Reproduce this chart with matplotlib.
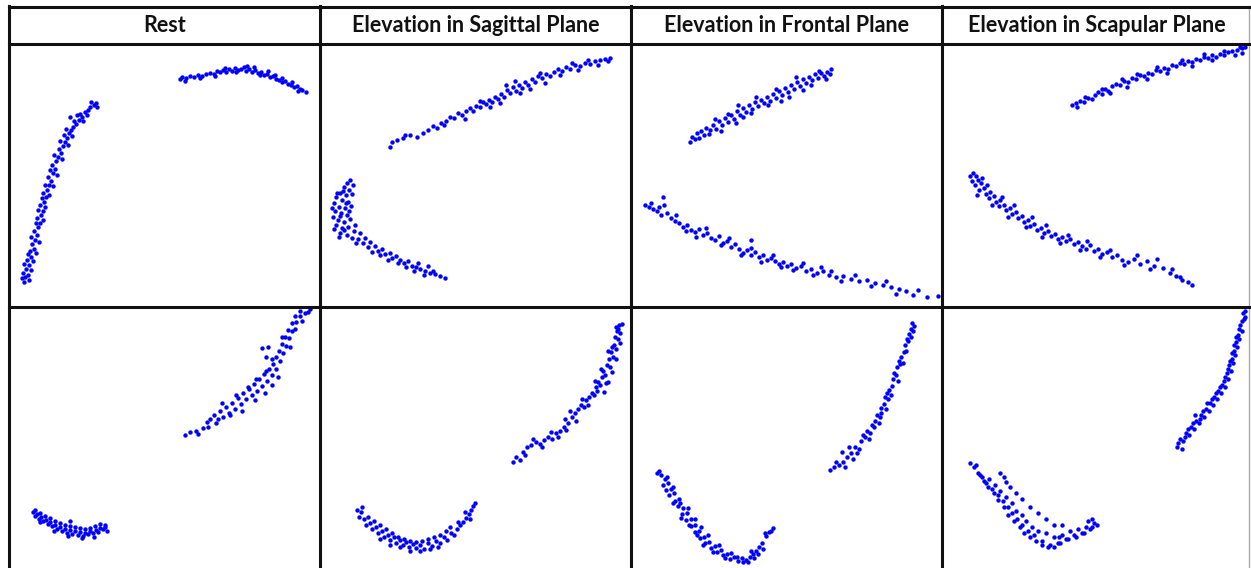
import matplotlib
matplotlib.use("Agg")
from matplotlib import pyplot as plt
from matplotlib.lines import Line2D

W, H = 1251, 568

titles = ["Rest", "Elevation in Sagittal Plane", "Elevation in Frontal Plane", "Elevation in Scapular Plane"]

# point positions inside each panel (x from panel left, y from panel top)
rest_top = [
    (14,237),(15,232),(13,228),(18,230),(16,224),(19,220),(17,215),(21,212),(20,206),(24,204),(22,199),(25,195),
    (27,190),(24,186),(28,182),(30,178),(27,173),(31,170),(33,166),(30,160),(34,157),(36,152),(33,148),(37,145),
    (39,140),(41,136),(38,132),(43,128),(45,124),(42,120),(46,116),(48,112),(51,108),(49,104),(53,101),(55,97),
    (57,93),(54,90),(59,88),(61,85),(63,82),(66,79),(64,76),(69,75),(72,72),(70,69),(75,67),(78,65),(80,62),
    (84,60),(86,58),(87,62),
    (12,233),(19,235),(21,225),(14,219),(23,216),(18,209),(26,208),(21,192),(29,197),(26,178),(33,175),(28,165),
    (35,162),(32,153),(39,150),(35,140),(43,141),(40,125),(47,130),(44,110),(52,114),(50,96),(58,100),(56,84),
    (62,91),(67,70),(73,76),(81,57),(77,70),(60,72),
    (170,34),(172,32),(176,33),(180,31),(184,32),(188,30),(192,31),(196,29),(200,28),(204,29),(207,26),(210,27),
    (213,25),(216,27),(219,24),(222,26),(225,23),(228,25),(231,24),(234,22),(236,26),(239,24),(242,27),(245,25),
    (248,28),(251,27),(254,30),(257,29),(260,32),(263,31),(266,34),(269,35),(272,37),(275,36),(278,39),(281,40),
    (284,42),(287,41),(290,44),(292,45),
    (175,36),(190,33),(205,31),(215,23),(226,27),(237,21),(244,22),(250,30),(258,26),(265,30),(272,33),(282,37),
    (288,46),(296,47),
]
sagittal_top = [
    (70,102),(72,97),(77,95),(83,93),(90,90),(97,92),(103,88),(108,85),(113,81),(117,83),(121,78),(126,76),
    (130,72),(134,73),(138,68),(142,70),(146,66),(150,63),(153,66),(156,61),(160,62),(163,57),(166,59),(169,55),
    (172,57),(175,52),(178,54),(181,49),(184,52),(187,45),(190,48),(193,42),(196,46),(199,40),(202,43),(205,37),
    (208,40),(212,34),(215,37),(218,31),(222,33),(226,29),(230,31),(234,27),(238,24),(242,26),(246,22),(250,24),
    (255,20),(260,21),(265,18),(270,19),(275,16),(280,15),(285,14),(290,13),
    (186,40),(195,36),(200,48),(210,44),(220,28),(225,38),(240,30),(252,18),(258,25),(268,15),(278,20),(288,16),
    (180,58),(170,62),(160,56),(145,74),(124,80),(85,90),
    (30,135),(27,138),(33,140),(24,142),(29,145),(20,148),(26,150),(32,149),(16,152),(22,155),(28,157),(14,158),
    (19,162),(25,163),(31,161),(15,166),(21,168),(27,170),(13,172),(18,175),(24,177),(30,174),(16,180),(22,183),
    (28,182),(35,180),(20,188),(27,190),(34,186),(40,188),(38,194),(45,193),(43,198),(50,197),(48,202),(55,201),
    (58,206),(62,204),(65,209),(70,208),(72,213),(76,211),(80,215),(84,218),(88,216),(92,221),(96,222),(100,224),
    (105,226),(110,228),(115,229),(120,231),(125,233),
    (17,148),(23,146),(26,158),(12,163),(20,171),(29,166),(14,184),(24,185),(32,193),(19,192),(36,198),(52,207),
    (60,210),(68,215),(78,218),(86,222),(94,226),(104,230),(113,226),(108,221),(98,218),
]
frontal_top = [
    (59,97),(61,92),(64,94),(66,88),(70,86),(73,90),(75,83),(79,85),(82,80),(85,84),(88,76),(91,80),(94,73),
    (97,77),(100,70),(103,74),(106,66),(109,70),(112,63),(115,67),(118,60),(121,64),(124,57),(127,61),(130,55),
    (133,58),(136,52),(139,56),(142,49),(145,53),(148,46),(151,50),(154,43),(157,47),(160,40),(163,44),(166,37),
    (169,41),(172,34),(175,38),(178,32),(181,35),(184,29),(187,33),(190,28),(193,31),(196,27),(199,29),
    (68,93),(78,89),(90,86),(97,69),(105,78),(112,72),(120,68),(125,52),(137,60),(145,44),(150,56),(158,52),
    (165,32),(172,45),(180,40),(188,26),(195,34),(200,24),(84,74),(107,60),
    (14,160),(18,162),(22,164),(26,166),(32,152),(33,160),(30,170),(36,168),(40,173),(44,176),(48,178),(52,182),
    (56,180),(60,185),(64,187),(68,184),(72,190),(76,188),(80,193),(84,195),(88,191),(92,198),(96,196),(100,202),
    (104,199),(108,204),(112,208),(116,205),(120,210),(124,207),(128,212),(132,210),(136,215),(140,213),(144,216),
    (148,219),(152,217),(156,221),(160,219),(165,223),(170,221),(175,226),(180,224),(186,228),(192,226),(198,230),
    (205,232),(212,231),(220,234),(228,236),(236,235),(244,238),(252,240),(260,242),(268,244),(275,246),(282,250),
    (296,252),(307,251),
    (20,158),(28,162),(45,170),(55,186),(65,192),(75,183),(90,200),(98,193),(110,210),(120,203),(130,217),(142,210),
    (150,222),(162,225),(172,218),(182,230),(190,222),(200,226),(210,236),(224,230),(240,241),(255,236),(265,249),
    (287,245),(120,195),
]
scapular_top = [
    (130,60),(134,58),(138,56),(142,57),(146,53),(150,54),(153,50),(156,47),(160,49),(163,44),(166,46),(170,41),
    (174,39),(178,40),(182,36),(186,37),(190,33),(194,34),(198,30),(202,31),(206,28),(210,29),(214,25),(218,26),
    (222,23),(226,24),(230,20),(234,21),(238,18),(242,19),(246,16),(250,17),(254,14),(258,15),(262,12),(266,13),
    (270,10),(274,12),(278,9),(282,10),(286,7),(290,6),(295,5),(300,3),(303,2),
    (135,62),(143,52),(160,44),(168,48),(180,34),(185,42),(195,29),(205,34),(215,22),(225,28),(240,15),(250,21),
    (262,9),(270,15),(282,6),(293,10),(298,2),(300,8),
    (31,128),(34,131),(30,136),(36,135),(33,140),(39,138),(37,145),(42,143),(44,149),(48,147),(47,153),(52,151),
    (54,157),(58,155),(57,161),(62,160),(64,165),(68,163),(70,169),(74,167),(76,173),(80,171),(82,177),(86,175),
    (88,181),(92,179),(95,185),(99,183),(102,188),(106,186),(109,191),(113,189),(116,194),(120,192),(124,196),
    (128,194),(132,199),(136,197),(140,201),(144,204),(148,200),(152,206),(156,204),(160,209),(165,207),(170,212),
    (175,210),(180,215),(186,217),(192,214),(198,219),(205,216),(212,221),(221,223),(228,228),(234,231),(240,235),
    (246,237),(250,240),
    (28,131),(40,133),(35,150),(45,140),(50,160),(60,152),(66,172),(72,160),(84,182),(90,172),(100,192),(104,180),
    (118,198),(126,190),(138,205),(145,196),(158,212),(168,205),(182,220),(195,210),(208,224),(215,214),(230,224),
    (238,232),
]
rest_bottom = [
    (175,128),(180,125),(186,124),(193,121),(197,115),(200,112),(204,108),(206,116),(210,104),(213,110),(216,100),
    (219,106),(222,96),(225,102),(228,91),(231,97),(233,86),(236,92),(239,82),(242,88),(244,77),(247,84),(249,72),
    (252,79),(254,67),(257,74),(259,62),(262,68),(263,57),(266,62),(266,50),(270,54),(269,44),(273,46),(272,37),
    (276,39),(275,30),(279,31),(278,23),(282,24),(282,16),(286,15),(285,9),(290,9),(295,6),(298,5),(252,41),(256,50),
    (188,127),(198,120),(208,112),(212,96),(220,108),(226,88),(232,104),(238,80),(245,93),(246,72),(255,86),
    (256,64),(262,78),(258,40),(262,52),(268,70),(272,30),(280,40),(285,22),(292,14),(300,2),(290,4),
    (23,205),(25,209),(27,207),(29,212),(31,210),(33,214),(36,213),(38,217),(40,215),(42,219),(45,218),(47,222),
    (50,220),(52,224),(55,222),(57,226),(60,223),(62,227),(65,224),(68,228),(70,225),(73,229),(75,226),(78,227),
    (80,224),(83,226),(86,223),(88,225),(90,221),(93,222),(95,220),(97,224),
    (25,203),(30,206),(35,209),(40,211),(45,214),(50,216),(55,218),(60,219),(65,220),(70,221),(75,222),(80,221),
    (85,219),(90,217),(95,218),(30,215),(44,224),(58,229),(72,231),(84,230),(60,214),
]
sagittal_bottom = [
    (193,155),(200,153),(203,145),(207,140),(211,138),(216,135),(220,137),(224,133),(228,130),(232,132),(236,126),
    (240,124),(244,120),(245,112),(248,116),(252,110),(255,106),(258,102),(261,98),(264,100),(266,93),(269,90),
    (272,86),(274,88),(276,80),(278,75),(280,78),(282,70),(283,64),(285,68),(287,58),(289,52),(290,60),(291,45),
    (293,50),(294,38),(296,42),(295,30),(298,32),(297,24),(300,26),(299,18),(302,17),(292,65),(288,75),(284,85),
    (196,150),(205,148),(213,132),(222,140),(231,125),(238,130),(246,123),(250,104),(256,114),(262,92),(268,98),
    (275,74),(277,84),(281,62),(286,76),(288,44),(292,40),(296,52),(300,36),(296,20),(298,22),
    (37,203),(41,205),(39,210),(44,212),(46,218),(50,216),(52,222),(56,220),(58,226),(62,224),(64,230),(68,228),
    (70,233),(74,230),(76,236),(80,233),(83,238),(86,235),(89,240),(93,237),(96,241),(100,238),(104,242),(108,236),
    (112,239),(116,234),(120,236),(124,230),(127,233),(131,226),(134,228),(137,222),(140,218),(143,215),(146,211),
    (149,207),(151,203),(153,199),(155,196),
    (42,200),(48,210),(54,214),(60,218),(66,222),(72,226),(78,230),(84,232),(90,234),(96,235),(102,234),(108,232),
    (114,230),(120,228),(126,224),(60,232),(70,238),(80,240),(90,244),(100,244),(110,242),(118,240),(130,220),
    (138,215),(145,205),(150,212),
]
frontal_bottom = [
    (199,163),(203,160),(208,158),(212,155),(211,145),(216,150),(220,146),(224,140),(228,142),(230,134),(234,130),
    (236,124),(239,126),(241,118),(244,114),(246,108),(249,110),(250,101),(253,97),(254,90),(257,92),(258,83),
    (261,79),(262,72),(265,68),(266,60),(269,57),(270,50),(273,45),(274,38),(277,34),(278,27),(280,22),(281,16),
    (283,19),
    (205,155),(214,160),(218,140),(226,146),(232,128),(238,132),(243,120),(248,116),(250,106),(255,102),(256,86),
    (260,88),(263,66),(267,74),(268,54),(272,56),(275,44),(276,32),(280,30),(282,24),(222,152),
    (26,166),(30,168),(34,172),(32,178),(37,176),(40,182),(38,188),(43,186),(44,194),(48,192),(47,199),(52,201),
    (51,207),(56,206),(55,213),(60,212),(60,219),(64,218),(64,225),(68,224),(69,231),(73,230),(74,236),(78,235),
    (80,241),(84,239),(86,245),(90,243),(92,248),(96,247),(99,252),(103,250),(107,254),(111,251),(115,253),
    (119,250),(122,247),(125,244),(128,240),(131,236),(135,229),(138,225),(142,221),
    (28,164),(36,170),(35,183),(42,180),(42,196),(49,196),(50,211),(57,201),(58,218),(64,212),(66,228),(70,220),
    (72,238),(77,228),(82,245),(88,238),(94,251),(100,246),(106,250),(112,255),(117,255),(123,251),(127,247),
    (132,242),(134,226),(140,224),(120,244),
]
scapular_bottom = [
    (235,140),(238,132),(241,134),(244,126),(247,128),(249,120),(252,122),(254,114),(257,116),(259,108),(262,110),
    (264,102),(267,104),(268,96),(271,98),(272,90),(275,92),(276,84),(279,86),(280,78),(283,80),(283,70),(286,72),
    (286,62),(289,64),(288,54),(291,56),(290,46),(293,48),(292,38),(295,40),(294,30),(297,32),(297,22),(300,24),
    (300,14),(303,10),(301,6),
    (236,136),(243,130),(246,122),(251,116),(253,108),(258,112),(261,104),(265,96),(270,92),(274,86),(278,80),
    (282,74),(285,66),(287,58),(290,52),(292,44),(294,35),(296,28),(298,18),(302,12),(303,4),(240,142),
    (28,156),(32,160),(36,166),(40,170),(44,176),(47,172),(50,182),(53,178),(56,188),(58,184),(61,194),(64,190),
    (66,200),(70,196),(70,206),(74,204),(75,212),(80,208),(80,218),(84,214),(86,224),(90,220),(92,228),(96,224),
    (100,234),(104,226),(108,238),(112,230),(116,236),(120,228),(124,232),(128,224),(132,228),(136,222),(140,226),
    (144,220),(148,222),(152,216),(155,218),(58,166),(64,175),
    (34,158),(38,168),(42,174),(46,180),(52,186),(56,193),(62,200),(66,208),(72,214),(78,220),(82,226),(88,230),
    (94,234),(100,238),(106,240),(112,240),(118,236),(126,232),(134,230),(142,226),(150,220),(62,170),(68,180),
    (74,186),(80,192),(88,200),(96,206),(104,212),(112,218),(120,218),(146,214),(150,212),(117,230),
]

panels = [
    [rest_top, sagittal_top, frontal_top, scapular_top],
    [rest_bottom, sagittal_bottom, frontal_bottom, scapular_bottom],
]

col_x = [10, 320, 631, 942, 1251]
row_y = [7, 45, 307, 568]

fig = plt.figure(figsize=(W / 100, H / 100), dpi=100)
fig.patch.set_facecolor("white")

def fx(px):
    return px / W

def fy(py):
    return 1 - py / H

for r in range(2):
    for c in range(4):
        x0, x1 = col_x[c], col_x[c + 1]
        y0, y1 = row_y[r + 1], row_y[r + 2]
        ax = fig.add_axes([fx(x0), fy(y1), (x1 - x0) / W, (y1 - y0) / H])
        pts = panels[r][c]
        ax.scatter([p[0] for p in pts], [p[1] for p in pts], s=10, color="#0000ff", linewidths=0)
        ax.set_xlim(0, x1 - x0)
        ax.set_ylim(y1 - y0, 0)
        ax.axis("off")

for c in range(4):
    cx = (col_x[c] + col_x[c + 1]) / 2
    fig.text(fx(cx), fy(26), titles[c], ha="center", va="center", fontsize=15.5,
             fontweight="bold", family="Lato", color="#111111")

# table grid
for px in [9, 320, 631, 942]:
    fig.add_artist(Line2D([fx(px), fx(px)], [fy(6), fy(568)], color="#111111", lw=2.2))
fig.add_artist(Line2D([fx(1249), fx(1249)], [fy(6), fy(568)], color="#aaaaaa", lw=1))
for py in [7, 44, 307]:
    fig.add_artist(Line2D([fx(9), fx(1251)], [fy(py), fy(py)], color="#111111", lw=2.2))

plt.savefig("out.png", dpi=100)
